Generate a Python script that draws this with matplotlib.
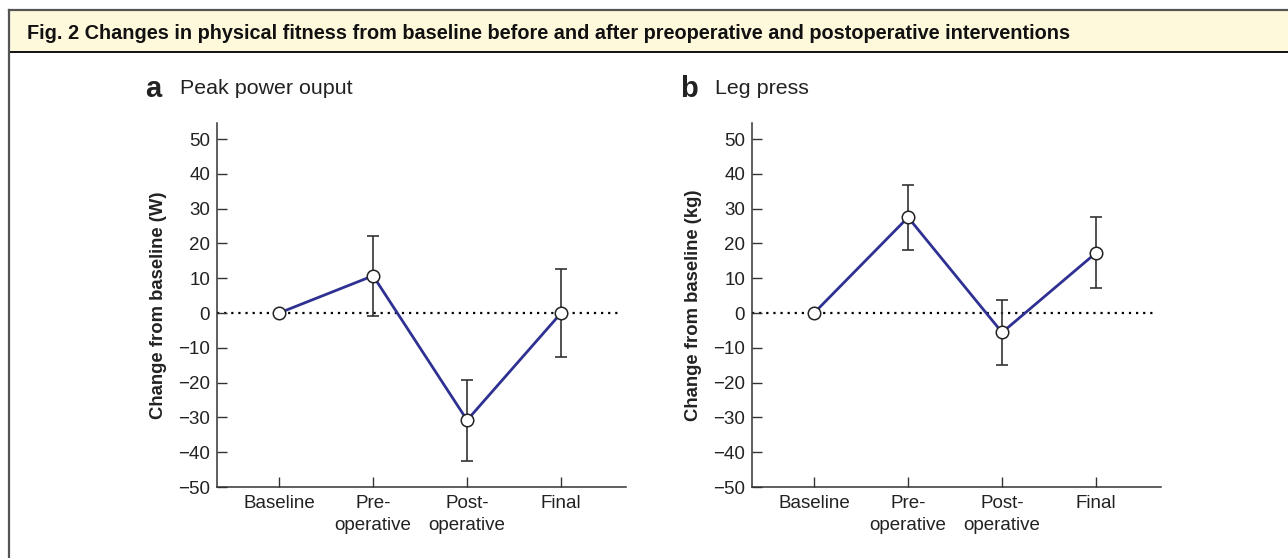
import matplotlib
matplotlib.use("Agg")
import matplotlib.pyplot as plt
from matplotlib.patches import Rectangle
from matplotlib.lines import Line2D

plt.rcParams['font.family'] = ['Liberation Sans', 'DejaVu Sans']

# data
categories = ["Baseline", "Pre-\noperative", "Post-\noperative", "Final"]
power_mean = [0, 10.7, -30.8, 0]
power_err = [0, 11.5, 11.6, 12.6]
legpress_mean = [0, 27.5, -5.6, 17.3]
legpress_err = [0, 9.3, 9.4, 10.2]
yticks = [-50, -40, -30, -20, -10, 0, 10, 20, 30, 40, 50]

fig_title = "Fig. 2 Changes in physical fitness from baseline before and after preoperative and postoperative interventions"
panels = [
    ("a", "Peak power ouput", "Change from baseline (W)", power_mean, power_err),
    ("b", "Leg press", "Change from baseline (kg)", legpress_mean, legpress_err),
]

W, H = 1288, 558
fig = plt.figure(figsize=(W / 100, H / 100), dpi=100)

# header box and frame
fig.patches.append(Rectangle((9 / W, 1 - 52 / H), 1, 42 / H, transform=fig.transFigure,
                             facecolor="#fff9dc", edgecolor="none", zorder=0))
fig.lines.append(Line2D([9 / W, 1], [1 - 10 / H] * 2, transform=fig.transFigure, color="#555555", lw=1.6))
fig.lines.append(Line2D([9 / W, 1], [1 - 52 / H] * 2, transform=fig.transFigure, color="#111111", lw=1.4))
fig.lines.append(Line2D([9 / W, 9 / W], [0, 1 - 10 / H], transform=fig.transFigure, color="#555555", lw=1.6))
fig.text(27 / W, 1 - 33.5 / H, fig_title, fontsize=14.3, fontweight="bold", va="center", ha="left", color="#111111")

lefts = [217, 752]
for (letter, subtitle, ylabel, mean, err), left in zip(panels, lefts):
    ax = fig.add_axes([left / W, 1 - 487 / H, 409 / W, (487 - 123) / H])
    x = list(range(len(categories)))
    # dotted zero line
    ax.plot([-0.66, 3.6], [0, 0], linestyle=(0, (1, 2.2)), color="#000000", lw=1.6, zorder=1)
    ax.errorbar(x[1:], mean[1:], yerr=err[1:], fmt="none", ecolor="#333333", elinewidth=1.2,
                capsize=4.5, capthick=1.2, zorder=2)
    ax.plot(x, mean, color="#2e3192", lw=2, zorder=3)
    ax.plot(x, mean, "o", markersize=9, markerfacecolor="white", markeredgecolor="#222222",
            markeredgewidth=1.1, zorder=4)
    ax.set_xlim(-0.66, 3.69)
    ax.set_ylim(-50, 54.6)
    ax.set_yticks(yticks)
    ax.set_yticklabels([str(v).replace("-", "\u2212") for v in yticks])
    ax.set_xticks(x)
    ax.set_xticklabels(categories, linespacing=1.35)
    ax.tick_params(direction="in", length=7, width=1, color="#333333", labelsize=13.5, labelcolor="#222222")
    ax.tick_params(axis="y", pad=5)
    ax.tick_params(axis="x", pad=6)
    for side in ("top", "right"):
        ax.spines[side].set_visible(False)
    for side in ("left", "bottom"):
        ax.spines[side].set_color("#333333")
        ax.spines[side].set_linewidth(1.1)
    ax.set_ylabel(ylabel, fontsize=13.3, fontweight="bold", color="#222222", labelpad=8)
    fig.text((left - 72) / W, 1 - 89 / H, letter, fontsize=21, fontweight="bold", va="center", color="#222222")
    fig.text((left - 37) / W, 1 - 89 / H, subtitle, fontsize=15.4, va="center", color="#222222")

fig.savefig("out.png", dpi=100)
